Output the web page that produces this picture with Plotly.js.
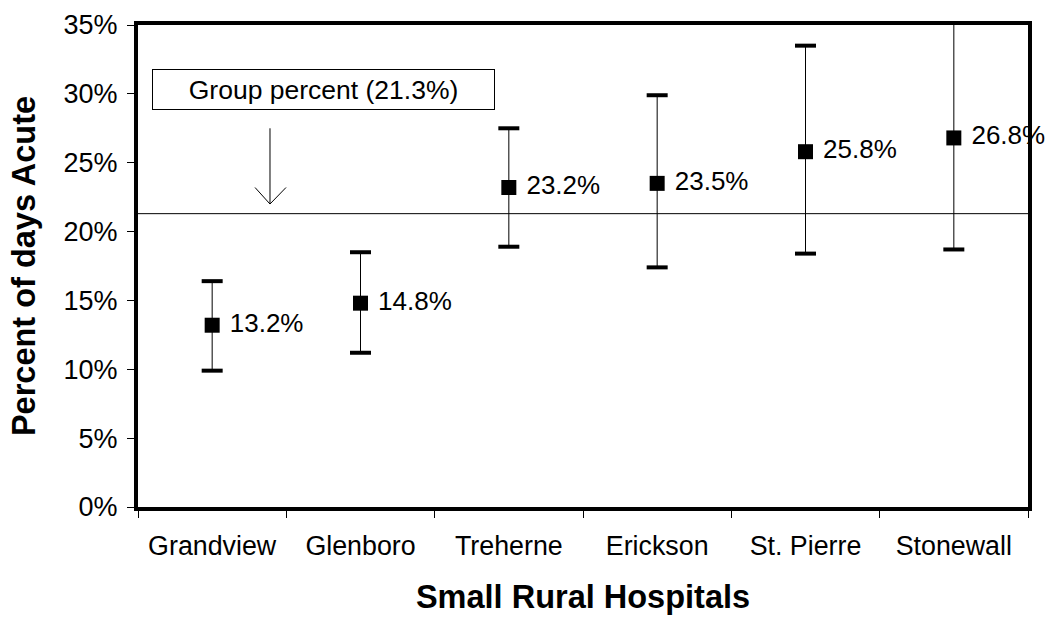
<!DOCTYPE html>
<html>
<head>
<meta charset="utf-8">
<script src="https://cdn.plot.ly/plotly-3.0.1.min.js"></script>
<style>html,body{margin:0;padding:0;background:#fff;}#chart{width:1048px;height:617px;}</style>
</head>
<body>
<div id="chart"></div>
<script>
const hospitals = ['Grandview', 'Glenboro', 'Treherne', 'Erickson', 'St. Pierre', 'Stonewall'];
const percentAcute = [13.2, 14.8, 23.2, 23.5, 25.8, 26.8];
const ciLower = [9.9, 11.2, 18.9, 17.4, 18.4, 18.7];
const ciUpper = [16.4, 18.5, 27.5, 29.9, 33.5, 36.0];
const groupPercent = 21.3;
const yTickVals = [0, 5, 10, 15, 20, 25, 30, 35];
const yTickText = ['0%', '5%', '10%', '15%', '20%', '25%', '30%', '35%'];

const FONT = 'Liberation Sans, Arial, sans-serif';

const plusErr = percentAcute.map((v, i) => ciUpper[i] - v);
const minusErr = percentAcute.map((v, i) => v - ciLower[i]);

const traces = [
  {
    type: 'scatter', mode: 'markers', x: hospitals, y: percentAcute,
    marker: {symbol: 'square', size: 15, color: '#000'},
    error_y: {type: 'data', symmetric: false, array: plusErr, arrayminus: minusErr,
              color: '#000', thickness: 1, width: 0},
    cliponaxis: true, hoverinfo: 'skip', showlegend: false
  },
  {
    type: 'scatter', mode: 'markers', x: hospitals.concat(hospitals), y: ciUpper.concat(ciLower),
    marker: {symbol: 'line-ew', size: 15, color: '#000', line: {color: '#000', width: 4}},
    cliponaxis: true, hoverinfo: 'skip', showlegend: false
  },
  {
    type: 'scatter', mode: 'markers+text', x: hospitals, y: percentAcute,
    text: percentAcute.map(v => ' ' + v.toFixed(1) + '%'),
    textposition: 'middle right',
    textfont: {family: FONT, size: 26, color: '#000'},
    marker: {size: 15, color: 'rgba(0,0,0,0)'},
    cliponaxis: false, hoverinfo: 'skip', showlegend: false
  }
];

const layout = {
  width: 1048, height: 617,
  margin: {l: 138, r: 20, t: 25, b: 110},
  paper_bgcolor: '#fff', plot_bgcolor: '#fff',
  font: {family: FONT, color: '#000'},
  showlegend: false,
  xaxis: {
    type: 'category', range: [-0.5, 5.5],
    showline: true, linecolor: '#000', linewidth: 4, mirror: true,
    ticks: 'outside', tickson: 'boundaries', ticklen: 7, tickwidth: 1, tickcolor: '#000',
    ticklabelstandoff: 12,
    tickfont: {family: FONT, size: 26.8, color: '#000'},
    showgrid: false, zeroline: false,
    title: {text: 'Small Rural Hospitals', font: {family: FONT, size: 32.5, color: '#000', weight: 'bold'}, standoff: 26}
  },
  yaxis: {
    range: [0, 35], tickvals: yTickVals, ticktext: yTickText,
    showline: true, linecolor: '#000', linewidth: 4, mirror: true,
    ticks: 'outside', ticklen: 7, tickwidth: 1, tickcolor: '#000',
    ticklabelstandoff: 4,
    tickfont: {family: FONT, size: 27, color: '#000'},
    showgrid: false, zeroline: false,
    title: {text: 'Percent of days Acute', font: {family: FONT, size: 32.5, color: '#000', weight: 'bold'}, standoff: 19}
  },
  shapes: [
    {type: 'line', xref: 'paper', x0: 0, x1: 1, yref: 'y', y0: groupPercent, y1: groupPercent,
     line: {color: '#000', width: 1}},
    {type: 'line', xref: 'paper', x0: 0.1483, x1: 0.1483, yref: 'y', y0: 27.5, y1: 22.0,
     line: {color: '#000', width: 1}},
    {type: 'path', xref: 'paper', yref: 'y',
     path: 'M 0.1315 23.2 L 0.1483 22.0 L 0.1663 23.2',
     line: {color: '#000', width: 1}}
  ],
  annotations: [
    {xref: 'paper', yref: 'y', x: 0.2085, y: 30.3, xanchor: 'center', yanchor: 'middle',
     text: 'Group percent (' + groupPercent.toFixed(1) + '%)', showarrow: false,
     font: {family: FONT, size: 26.5, color: '#000'},
     bordercolor: '#000', borderwidth: 1, borderpad: 1, bgcolor: '#fff',
     width: 339, height: 37}
  ]
};

Plotly.newPlot('chart', traces, layout, {staticPlot: true, displayModeBar: false});
</script>
</body>
</html>
